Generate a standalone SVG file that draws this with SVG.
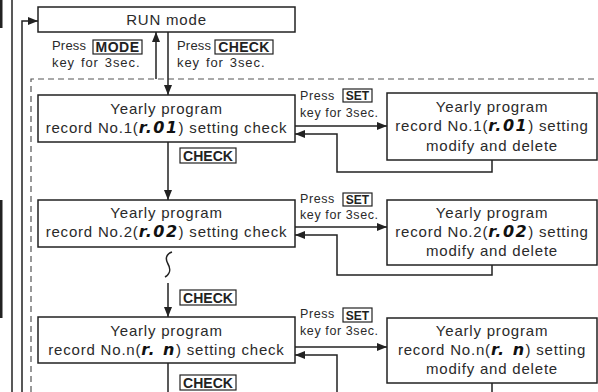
<svg xmlns="http://www.w3.org/2000/svg" width="598" height="392" viewBox="0 0 598 392">
<defs>
<marker id="ah" viewBox="0 0 10 10" refX="10" refY="5" markerWidth="10" markerHeight="10" markerUnits="userSpaceOnUse" orient="auto"><path d="M0,1 L10,5 L0,9 z" fill="#222"/></marker>
<style>
.box{fill:#fff;stroke:#222;stroke-width:1.5}
.t{font-family:"Liberation Sans",Arial,sans-serif;font-size:15px;letter-spacing:0.8px;fill:#2a2a2a;text-anchor:middle}
.s{font-family:"Liberation Sans",Arial,sans-serif;font-size:13px;letter-spacing:0.9px;word-spacing:1.5px;fill:#2a2a2a}
.p{letter-spacing:0.2px}
.ss{font-family:"Liberation Sans",Arial,sans-serif;font-size:12.5px;letter-spacing:0.6px;fill:#2a2a2a}
.k{font-family:"Liberation Sans",Arial,sans-serif;font-weight:bold;fill:#222;text-anchor:middle}
.kb{fill:#fff;stroke:#222;stroke-width:1.2}
.seg{font-family:"DejaVu Sans",sans-serif;font-weight:bold;font-style:italic;font-size:16px;letter-spacing:1.5px;fill:#111}
.ln{fill:none;stroke:#222;stroke-width:1.5}
.ar{fill:none;stroke:#222;stroke-width:1.5;marker-end:url(#ah)}
.dash{fill:none;stroke:#555;stroke-width:1.2;stroke-dasharray:6 4}
</style>
</defs>
<rect x="0" y="0" width="598" height="392" fill="#fff"/>
<rect x="0" y="0" width="2.5" height="28" fill="#222"/>
<rect x="0" y="200" width="2.5" height="118" fill="#222"/>
<line x1="12" y1="0" x2="12" y2="392" class="ln"/>
<path class="dash" d="M31,392 L31,79 L598,79"/>

<g id="connectors">
<path class="ar" d="M22,392 L22,21 L38,21"/>
<path class="ar" d="M156,79 L156,32"/>
<path class="ar" d="M168,32 L168,95"/>
<path class="ar" d="M168,142 L168,200"/>
<path class="ar" d="M168,283 L168,317"/>
<path class="ln" d="M168,363 L168,392"/>
<path class="ln" d="M172,252 C166,254 165,259 168,264 C171,269 170,274 165,277"/>
<path class="ar" d="M295,126 L387,126"/>
<path class="ar" d="M492,160 L492,172 L337,172 L337,134 L295,134"/>
<path class="ar" d="M295,227 L387,227"/>
<path class="ar" d="M492,265 L492,275 L337,275 L337,235 L295,235"/>
<path class="ar" d="M295,347 L387,347"/>
<path class="ln" d="M492,383 L492,392"/>
<path class="ar" d="M337,392 L337,355 L295,355"/>
</g>

<g id="run">
<rect class="box" x="38" y="7" width="257" height="25"/>
<text class="t" x="166.5" y="25">RUN mode</text>
</g>

<g id="lbl-mode">
<text class="s p" x="52" y="50">Press</text>
<rect class="kb" x="93" y="40" width="49" height="14"/>
<text class="k" x="117.5" y="52" font-size="14" letter-spacing="0.5">MODE</text>
<text class="s" x="52" y="67">key for 3sec.</text>
</g>
<g id="lbl-check">
<text class="s p" x="177" y="50">Press</text>
<rect class="kb" x="215" y="40" width="58" height="14"/>
<text class="k" x="244" y="52" font-size="14" letter-spacing="0.3">CHECK</text>
<text class="s" x="177" y="67">key for 3sec.</text>
</g>

<g id="n1">
<rect class="box" x="38" y="95" width="257" height="47"/>
<text class="t" x="166.5" y="114">Yearly program</text>
<text class="t" x="166.5" y="133">record No.1(<tspan class="seg">r.01</tspan>) setting check</text>
</g>
<g id="n1m">
<rect class="box" x="387" y="93" width="210" height="67"/>
<text class="t" x="492" y="112">Yearly program</text>
<text class="t" x="492" y="131">record No.1(<tspan class="seg">r.01</tspan>) setting</text>
<text class="t" x="492" y="151">modify and delete</text>
</g>
<g id="lbl-set1">
<text class="ss" x="300" y="100">Press</text>
<rect class="kb" x="343" y="89" width="29" height="13"/>
<text class="k" x="357.5" y="100" font-size="12">SET</text>
<text class="ss" x="300" y="117">key for 3sec.</text>
</g>
<g id="lbl-c1">
<rect class="kb" x="180" y="148" width="56" height="15"/>
<text class="k" x="208" y="160.5" font-size="14">CHECK</text>
</g>

<g id="n2">
<rect class="box" x="38" y="200" width="257" height="47"/>
<text class="t" x="166.5" y="218">Yearly program</text>
<text class="t" x="166.5" y="237">record No.2(<tspan class="seg">r.02</tspan>) setting check</text>
</g>
<g id="n2m">
<rect class="box" x="387" y="200" width="210" height="65"/>
<text class="t" x="492" y="218">Yearly program</text>
<text class="t" x="492" y="237">record No.2(<tspan class="seg">r.02</tspan>) setting</text>
<text class="t" x="492" y="256">modify and delete</text>
</g>
<g id="lbl-set2">
<text class="ss" x="300" y="203">Press</text>
<rect class="kb" x="343" y="193" width="29" height="13"/>
<text class="k" x="357.5" y="204" font-size="12">SET</text>
<text class="ss" x="300" y="219">key for 3sec.</text>
</g>
<g id="lbl-c2">
<rect class="kb" x="180" y="290" width="56" height="15"/>
<text class="k" x="208" y="302.5" font-size="14">CHECK</text>
</g>

<g id="n3">
<rect class="box" x="38" y="317" width="257" height="46"/>
<text class="t" x="166.5" y="336">Yearly program</text>
<text class="t" x="166.5" y="355">record No.n(<tspan class="seg">r. n</tspan>) setting check</text>
</g>
<g id="n3m">
<rect class="box" x="387" y="318" width="210" height="65"/>
<text class="t" x="492" y="336">Yearly program</text>
<text class="t" x="492" y="355">record No.n(<tspan class="seg">r. n</tspan>) setting</text>
<text class="t" x="492" y="374">modify and delete</text>
</g>
<g id="lbl-set3">
<text class="ss" x="300" y="318">Press</text>
<rect class="kb" x="343" y="308" width="29" height="14"/>
<text class="k" x="357.5" y="319.5" font-size="12">SET</text>
<text class="ss" x="300" y="335">key for 3sec.</text>
</g>
<g id="lbl-c3">
<rect class="kb" x="180" y="375" width="56" height="15"/>
<text class="k" x="208" y="387.5" font-size="14">CHECK</text>
</g>
</svg>
